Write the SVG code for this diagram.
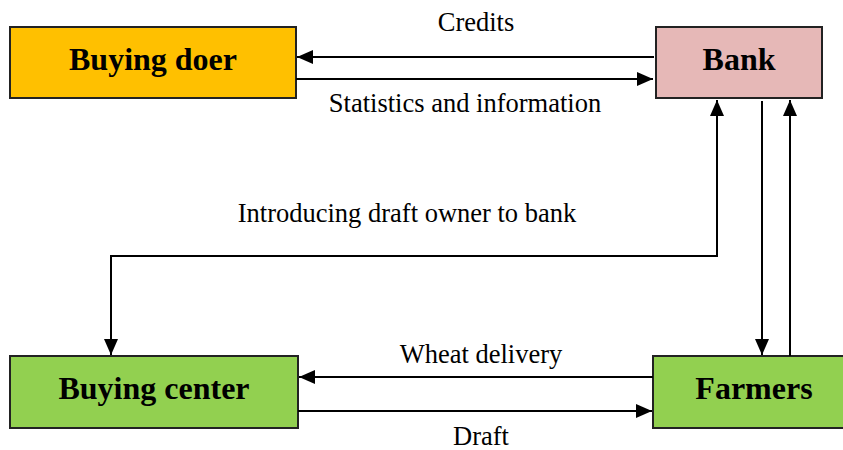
<svg xmlns="http://www.w3.org/2000/svg" width="843" height="450" viewBox="0 0 843 450">
<style>
.box{stroke:#222;stroke-width:2}
.nt{font-family:"Liberation Serif","Times New Roman",serif;font-weight:bold;font-size:32px;text-anchor:middle;fill:#000}
.lt{font-family:"Liberation Serif","Times New Roman",serif;font-size:26.5px;text-anchor:middle;fill:#000}
.c{stroke:#000;stroke-width:2;fill:none}
</style>
<defs>
<marker id="ah" markerWidth="16" markerHeight="14" refX="16" refY="7" orient="auto-start-reverse" markerUnits="userSpaceOnUse">
<path d="M0,0 L16,7 L0,14 Z" fill="#000"/>
</marker>
</defs>
<rect width="843" height="450" fill="#fff"/>
<g id="buying-doer"><rect class="box" x="10" y="27" width="286" height="71" fill="#FFC000"/><text class="nt" x="153" y="70">Buying doer</text></g>
<g id="bank"><rect class="box" x="656" y="27" width="166" height="71" fill="#E6B8B7"/><text class="nt" x="739" y="70">Bank</text></g>
<g id="buying-center"><rect class="box" x="10" y="356" width="288" height="72" fill="#92D050"/><text class="nt" x="154" y="399">Buying center</text></g>
<g id="farmers"><rect class="box" x="653" y="356" width="200" height="72" fill="#92D050"/><text class="nt" x="754" y="399">Farmers</text></g>
<g id="connectors">
<line class="c" x1="654" y1="57" x2="297" y2="57" marker-end="url(#ah)"/>
<line class="c" x1="296" y1="79" x2="653" y2="79" marker-end="url(#ah)"/>
<polyline class="c" points="111,355 111,256 717,256 717,100" marker-start="url(#ah)" marker-end="url(#ah)"/>
<line class="c" x1="762" y1="101" x2="762" y2="355" marker-end="url(#ah)"/>
<line class="c" x1="790" y1="356" x2="790" y2="100" marker-end="url(#ah)"/>
<line class="c" x1="653" y1="377" x2="299" y2="377" marker-end="url(#ah)"/>
<line class="c" x1="298" y1="411" x2="652" y2="411" marker-end="url(#ah)"/>
<g id="labels">
<text class="lt" x="476" y="31">Credits</text>
<text class="lt" x="465" y="112">Statistics and information</text>
<text class="lt" x="407" y="222">Introducing draft owner to bank</text>
<text class="lt" x="481" y="363">Wheat delivery</text>
<text class="lt" x="481" y="445">Draft</text>
</g>
</g>
</svg>
